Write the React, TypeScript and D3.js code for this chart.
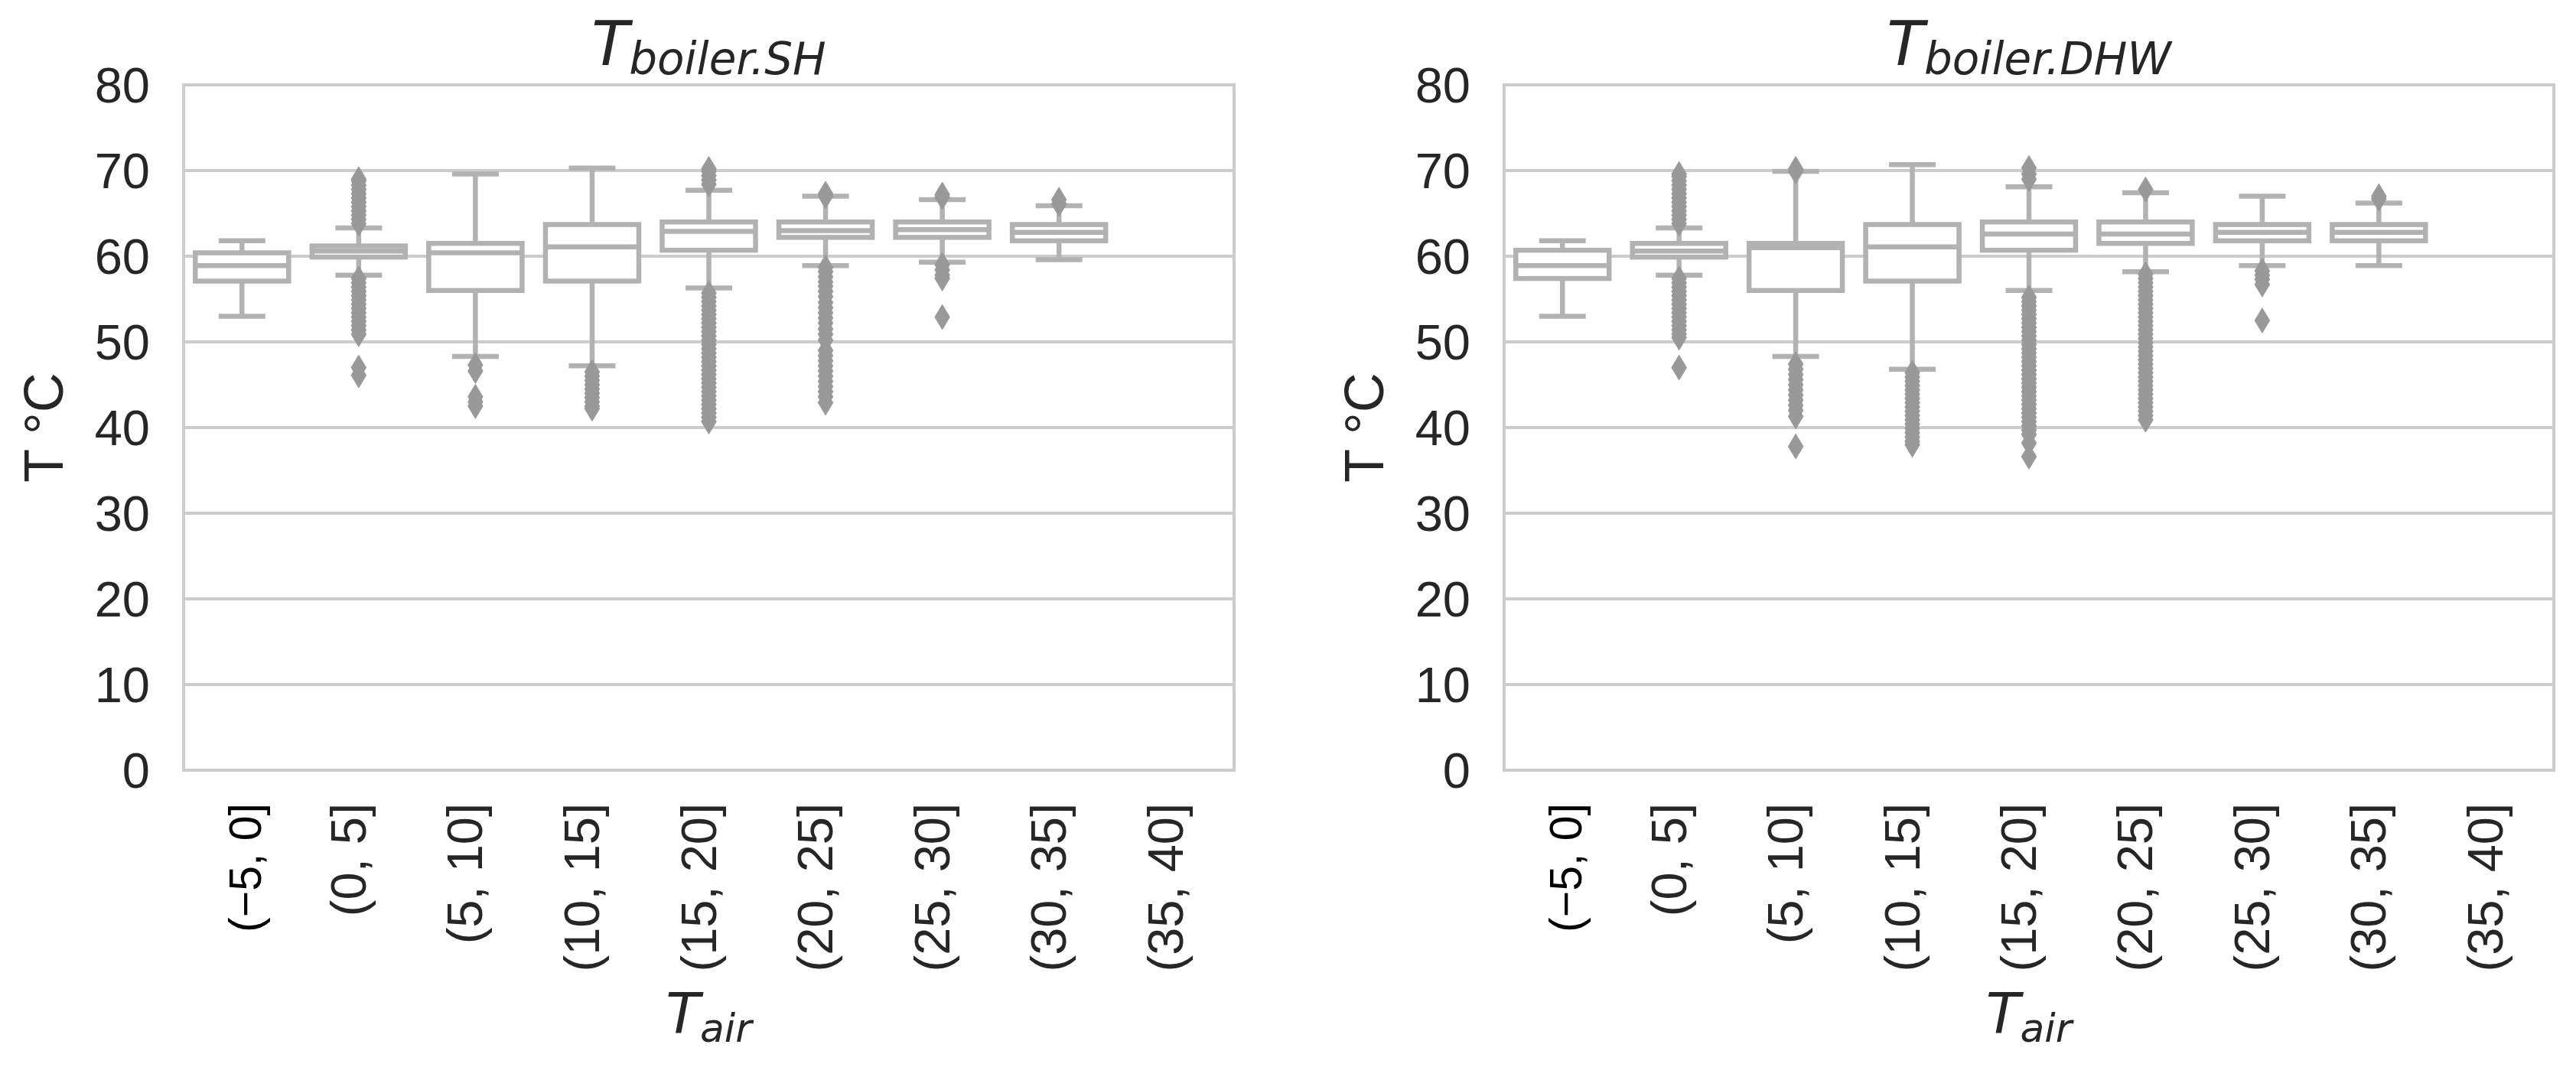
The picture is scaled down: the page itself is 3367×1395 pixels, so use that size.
import React from 'react';
import * as d3 from 'd3';

// ---------- data ----------
const categories = ['(−5, 0]', '(0, 5]', '(5, 10]', '(10, 15]', '(15, 20]', '(20, 25]', '(25, 30]', '(30, 35]', '(35, 40]'];
const yTicks = [0, 10, 20, 30, 40, 50, 60, 70, 80];

// T_boiler.SH
const shLow = [53.0, 57.8, 48.3, 47.2, 56.3, 58.9, 59.3, 59.6, null];
const shQ1 = [57.1, 59.9, 56.0, 57.1, 60.7, 62.2, 62.2, 61.8, null];
const shMedian = [58.9, 60.6, 60.4, 61.1, 62.9, 63.0, 63.1, 62.8, null];
const shQ3 = [60.4, 61.2, 61.5, 63.7, 64.0, 64.0, 64.0, 63.7, null];
const shHigh = [61.8, 63.3, 69.6, 70.3, 67.7, 67.0, 66.6, 65.9, null];
const shOutliers: number[][] = [
  [],
  [63.8, 64.3, 64.8, 65.3, 65.8, 66.3, 66.8, 67.3, 67.8, 68.3, 68.8, 69.0,
   57.4, 56.9, 56.4, 55.9, 55.4, 54.9, 54.4, 53.9, 53.4, 52.9, 52.4, 51.9, 51.4, 50.9, 47.0, 46.1],
  [47.3, 46.6, 43.6, 43.0, 42.5],
  [46.5, 46.0, 45.5, 45.0, 44.5, 44.0, 43.5, 43.0, 42.5, 42.2],
  [68.4, 68.9, 69.4, 69.9, 70.2,
   55.7, 55.2, 54.7, 54.2, 53.7, 53.2, 52.7, 52.2, 51.7, 51.2, 50.7, 50.2, 49.7, 49.2, 48.7, 48.2,
   47.7, 47.2, 46.7, 46.2, 45.7, 45.2, 44.7, 44.2, 43.7, 43.2, 42.7, 42.2, 41.7, 41.2, 40.7],
  [67.0, 67.3,
   58.7, 58.2, 57.6, 57.0, 56.5, 55.9, 55.3, 54.6, 54.0, 53.4, 52.8, 52.2, 51.5, 50.9, 50.2,
   49.0, 48.4, 47.8, 47.2, 46.6, 46.0, 45.4, 44.8, 44.2, 43.6, 42.9],
  [66.9, 67.2, 59.0, 58.4, 57.8, 57.4, 52.9],
  [66.1, 66.6],
  [],
];

// T_boiler.DHW
const dhwLow = [53.0, 57.8, 48.3, 46.8, 56.0, 58.2, 58.9, 58.9, null];
const dhwQ1 = [57.4, 59.9, 56.0, 57.1, 60.7, 61.5, 61.8, 61.8, null];
const dhwMedian = [58.9, 60.6, 61.0, 61.1, 62.6, 62.6, 62.8, 62.8, null];
const dhwQ3 = [60.7, 61.5, 61.5, 63.7, 64.0, 64.0, 63.7, 63.7, null];
const dhwHigh = [61.8, 63.3, 69.9, 70.7, 68.1, 67.4, 67.0, 66.2, null];
const dhwOutliers: number[][] = [
  [],
  [63.8, 64.3, 64.8, 65.3, 65.8, 66.3, 66.8, 67.3, 67.8, 68.3, 68.8, 69.3, 69.6,
   57.4, 56.9, 56.4, 55.9, 55.4, 54.9, 54.4, 53.9, 53.4, 52.9, 52.4, 51.9, 51.4, 50.9, 50.5, 47.0],
  [69.9, 70.2,
   47.4, 46.8, 46.2, 45.6, 45.0, 44.4, 43.8, 43.2, 42.6, 42.0, 41.3, 37.8],
  [46.4, 45.9, 45.4, 44.9, 44.4, 43.9, 43.4, 42.9, 42.4, 41.9, 41.4, 40.9, 40.4, 39.9, 39.4, 38.9, 38.4, 38.0],
  [69.0, 69.6, 70.3,
   55.2, 54.7, 54.2, 53.7, 53.2, 52.7, 52.2, 51.7, 51.2, 50.7, 50.2, 49.7, 49.2, 48.7, 48.2, 47.7,
   47.2, 46.7, 46.2, 45.7, 45.2, 44.7, 44.2, 43.7, 43.2, 42.7, 42.2, 41.7, 41.2, 40.7, 40.2, 39.7,
   39.2, 38.2, 36.6],
  [67.8,
   57.9, 57.4, 56.9, 56.4, 55.9, 55.4, 54.9, 54.4, 53.9, 53.4, 52.9, 52.4, 51.9, 51.4, 50.9, 50.4,
   49.9, 49.4, 48.9, 48.4, 47.9, 47.4, 46.9, 46.4, 45.9, 45.4, 44.9, 44.4, 43.9, 43.4, 42.9, 42.4,
   41.9, 41.4, 40.9],
  [58.3, 57.8, 57.3, 56.7, 52.5],
  [66.7, 67.0],
  [],
];

// ---------- layout ----------
const W = 3367;
const H = 1395;
const TOP = 111;
const BOTTOM = 1007;
const LINE = '#b2b2b2';
const FLIER = '#999999';
const GRID = '#cccccc';
const TEXT = '#262626';

type Panel = {
  x0: number; x1: number; sub: string;
  low: (number | null)[]; q1: (number | null)[]; med: (number | null)[];
  q3: (number | null)[]; high: (number | null)[]; out: number[][];
};

const panels: Panel[] = [
  { x0: 240, x1: 1613, sub: 'boiler.SH', low: shLow, q1: shQ1, med: shMedian, q3: shQ3, high: shHigh, out: shOutliers },
  { x0: 1966, x1: 3338, sub: 'boiler.DHW', low: dhwLow, q1: dhwQ1, med: dhwMedian, q3: dhwQ3, high: dhwHigh, out: dhwOutliers },
];

const DH = 32.5;
const DW = 19.5;
const diamond = `M0,${-DH / 2}L${DW / 2},0L0,${DH / 2}L${-DW / 2},0Z`;

function PanelView({ p }: { p: Panel }) {
  const x = d3.scaleBand<string>().domain(categories).range([p.x0, p.x1]).padding(0);
  const y = d3.scaleLinear().domain([0, 80]).range([BOTTOM, TOP]);
  const bw = x.bandwidth() * 0.8;
  const cx = (c: string) => (x(c) as number) + x.bandwidth() / 2;
  const sw = 6.5;
  const midX = (p.x0 + p.x1) / 2;
  return (
    <g>
      {/* grid */}
      {yTicks.filter(t => t > 0 && t < 80).map(t => (
        <line key={t} x1={p.x0} x2={p.x1} y1={y(t)} y2={y(t)} stroke={GRID} strokeWidth={4} />
      ))}
      {/* boxes */}
      {categories.map((c, i) => {
        const lo = p.low[i], q1 = p.q1[i], md = p.med[i], q3 = p.q3[i], hi = p.high[i];
        if (lo == null || q1 == null || md == null || q3 == null || hi == null) return null;
        const X = cx(c);
        return (
          <g key={c}>
            <rect x={X - bw / 2} y={y(q3)} width={bw} height={y(q1) - y(q3)} fill="#ffffff" stroke={LINE} strokeWidth={sw} />
            <line x1={X} x2={X} y1={y(q3)} y2={y(hi)} stroke={LINE} strokeWidth={sw} />
            <line x1={X} x2={X} y1={y(q1)} y2={y(lo)} stroke={LINE} strokeWidth={sw} />
            <line x1={X - bw / 4} x2={X + bw / 4} y1={y(hi)} y2={y(hi)} stroke={LINE} strokeWidth={sw} />
            <line x1={X - bw / 4} x2={X + bw / 4} y1={y(lo)} y2={y(lo)} stroke={LINE} strokeWidth={sw} />
            <line x1={X - bw / 2} x2={X + bw / 2} y1={y(md)} y2={y(md)} stroke={LINE} strokeWidth={sw} />
            {p.out[i].map((v, k) => (
              <path key={k} d={diamond} transform={`translate(${X},${y(v)})`} fill={FLIER} stroke={FLIER} strokeWidth={1} />
            ))}
          </g>
        );
      })}
      {/* frame */}
      <rect x={p.x0} y={TOP} width={p.x1 - p.x0} height={BOTTOM - TOP} fill="none" stroke={GRID} strokeWidth={4} />
      {/* y tick labels */}
      {yTicks.map(t => (
        <text key={t} x={p.x0 - 44} y={y(t) + 23} textAnchor="end" fontFamily="'Liberation Sans', Arial, sans-serif" fontSize={65} fill={TEXT}>{t}</text>
      ))}
      {/* x tick labels */}
      {categories.map((c, i) => {
        const first = i === 0;
        const bx = cx(c) + (first ? 25 : 9);
        return (
          <text key={c} transform={`translate(${bx},1050) rotate(-90)`} textAnchor="end"
            fontFamily="'Liberation Sans', Arial, sans-serif" fontSize={first ? 59 : 65} fill={first ? '#000000' : TEXT}>{c}</text>
        );
      })}
      {/* y label */}
      <text transform={`translate(${p.x0 - 183 + 25},${(TOP + BOTTOM) / 2}) rotate(-90)`} textAnchor="middle"
        fontFamily="'Liberation Sans', Arial, sans-serif" fontSize={72} fill={TEXT}>T °C</text>
      {/* title */}
      <text x={midX} y={85} textAnchor="middle" fontFamily="'DejaVu Sans', sans-serif" fontStyle="italic" fill={TEXT}>
        <tspan fontSize={80}>T</tspan>
        <tspan fontSize={58} dy={12}>{p.sub}</tspan>
      </text>
      {/* x label */}
      <text x={midX} y={1350} textAnchor="middle" fontFamily="'DejaVu Sans', sans-serif" fontStyle="italic" fill={TEXT}>
        <tspan fontSize={73}>T</tspan>
        <tspan fontSize={52} dy={12}>air</tspan>
      </text>
    </g>
  );
}

export default function App() {
  return (
    <svg width={W} height={H} viewBox={`0 0 ${W} ${H}`} style={{ position: 'absolute', left: 0, top: 0, background: '#ffffff' }}>
      <rect x={0} y={0} width={W} height={H} fill="#ffffff" />
      {panels.map((p, i) => <PanelView key={i} p={p} />)}
    </svg>
  );
}
